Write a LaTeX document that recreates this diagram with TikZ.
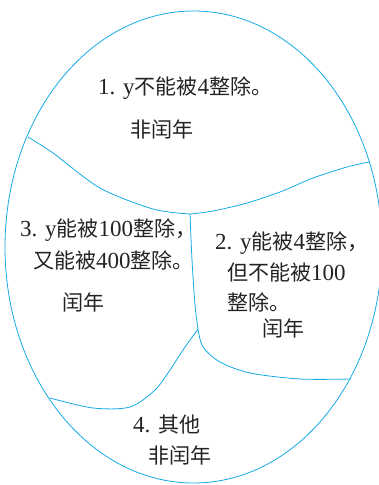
\documentclass[tikz,border=0pt]{standalone}
\usepackage{fontspec}
\setmainfont{Liberation Serif}
\newfontfamily\cjk{Noto Sans CJK SC}
\definecolor{lineblue}{RGB}{20,170,230}
\definecolor{txt}{RGB}{35,35,35}
\newcommand\zh[1]{{\fontsize{21}{25}\selectfont\cjk #1}}
\begin{document}
\begin{tikzpicture}[x=1pt,y=-1pt,
  region/.style={draw=lineblue,line width=0.8pt},
  lbl/.style={anchor=west,inner sep=0pt,text=txt,font=\fontsize{23}{27}\selectfont}]
\useasboundingbox (0,0) rectangle (378,485);
\draw[region] (193.5,247) ellipse [x radius=188.5,y radius=236];
\coordinate (jt) at (190,214);
\coordinate (jm) at (198,329);
\coordinate (eL) at (28,137);
\coordinate (eR) at (369,162);
\coordinate (eBL) at (50,398);
\coordinate (eBR) at (351,379);
\draw[region] plot[smooth] coordinates {(eL) (53,153) (100,188) (153,209) (jt)};
\draw[region] plot[smooth] coordinates {(jt) (213,211) (247,203) (280,192) (313,178) (347,167) (eR)};
\draw[region] plot[smooth] coordinates {(jt) (192,260) (195,305) (jm)};
\draw[region] plot[smooth] coordinates {(jm) (183,350) (170,370) (155,390) (130,407) (93,408) (eBL)};
\draw[region] plot[smooth] coordinates {(jm) (203,347) (220,362) (250,373) (300,379) (eBR)};
\node[lbl] (t1a) at (98,88) {1. y\zh{不能被}4\zh{整除。}};
\node[lbl] (t1b) at (130,129) {\zh{非闰年}};
\node[lbl] (t3a) at (20,230) {3. y\zh{能被}100\zh{整除，}};
\node[lbl] (t3b) at (33,260) {\zh{又能被}400\zh{整除。}};
\node[lbl] (t3c) at (62,302) {\zh{闰年}};
\node[lbl] (t2a) at (215,243) {2. y\zh{能被}4\zh{整除，}};
\node[lbl] (t2b) at (227,272) {\zh{但不能被}100};
\node[lbl] (t2c) at (227,302) {\zh{整除。}};
\node[lbl] (t2d) at (262,328) {\zh{闰年}};
\node[lbl] (t4a) at (133,425) {4. \zh{其他}};
\node[lbl] (t4b) at (148,455) {\zh{非闰年}};
\end{tikzpicture}
\end{document}
